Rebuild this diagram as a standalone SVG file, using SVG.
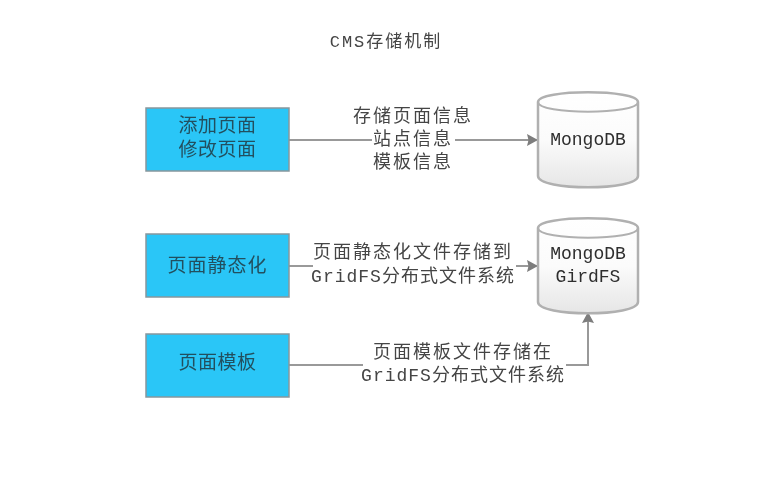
<svg xmlns="http://www.w3.org/2000/svg" width="782" height="482" viewBox="0 0 782 482">
<style>
text{font-family:"Liberation Mono","Noto Sans CJK SC",monospace;text-anchor:middle;fill:#444}
.t{font-size:18px}
.d{fill:#2e2e2e}
.n{font-size:19px;fill:#24505f;letter-spacing:.5px}
.box{fill:#2ac6f7;stroke:#87979d;stroke-width:1.5}
.cyl{fill:url(#g);stroke:#b0b0b0;stroke-width:2.5}
.c{fill:none;stroke:#999;stroke-width:2}
.e{fill:none;stroke:#b0b0b0;stroke-width:2}
.bg{fill:#fff}
</style>
<defs>
<linearGradient id="g" x1="0" y1="0" x2="0" y2="1"><stop offset="0" stop-color="#fff"/><stop offset="0.5" stop-color="#fbfbfb"/><stop offset="1" stop-color="#e6e6e6"/></linearGradient>
<marker id="a" markerUnits="userSpaceOnUse" markerWidth="11" markerHeight="12" refX="11" refY="6" orient="auto"><path d="M0 0L11 6L0 12L1.500 6Z" fill="#7d7d7d"/></marker>
<filter id="b" x="-5%" y="-5%" width="110%" height="110%"><feGaussianBlur stdDeviation="0.5"/></filter>
</defs>
<rect class="bg" width="782" height="482"/>
<g filter="url(#b)">
<text id="title" x="386" y="47" style="font-size:17px;letter-spacing:2px">CMS存储机制</text>
<g id="connectors">
<path class="c" marker-end="url(#a)" d="M289 140H538"/>
<path class="c" marker-end="url(#a)" d="M289 266H538"/>
<path class="c" marker-end="url(#a)" d="M289 365H588V312"/>
</g>
<g id="n1"><rect class="box" x="146" y="108" width="143" height="63"/>
<text class="n" x="217.500" y="132">添加页面</text><text class="n" x="217.500" y="156">修改页面</text></g>
<g id="n2"><rect class="box" x="146" y="234" width="143" height="63"/>
<text class="n" x="217.500" y="272" style="letter-spacing:1px">页面静态化</text></g>
<g id="n3"><rect class="box" x="146" y="334" width="143" height="63"/>
<text class="n" x="217.500" y="369">页面模板</text></g>
<g id="db1"><path class="cyl" d="M538 102C538 89 638 89 638 102V176C638 191 538 191 538 176Z"/><path class="e" d="M538 102C538 115 638 115 638 102"/>
<text class="t d" x="588" y="145">MongoDB</text></g>
<g id="db2"><path class="cyl" d="M538 228C538 215 638 215 638 228V302C638 317 538 317 538 302Z"/><path class="e" d="M538 228C538 241 638 241 638 228"/>
<text class="t d" x="588" y="259">MongoDB</text><text class="t d" x="588" y="282">GirdFS</text></g>
<g id="labels">
<rect class="bg" x="372" y="130" width="83" height="20"/>
<text class="t" x="413" y="122" letter-spacing="2">存储页面信息</text>
<text class="t" x="413" y="145" letter-spacing="2">站点信息</text>
<text class="t" x="413" y="168" letter-spacing="2">模板信息</text>
<rect class="bg" x="313" y="258" width="203" height="16"/>
<text class="t" x="413" y="258" letter-spacing="2">页面静态化文件存储到</text>
<text class="t" x="413" y="282" letter-spacing="1">GridFS分布式文件系统</text>
<rect class="bg" x="363" y="357" width="203" height="16"/>
<text class="t" x="463" y="358" letter-spacing="2">页面模板文件存储在</text>
<text class="t" x="463" y="381" letter-spacing="1">GridFS分布式文件系统</text>
</g>
</g>
</svg>
